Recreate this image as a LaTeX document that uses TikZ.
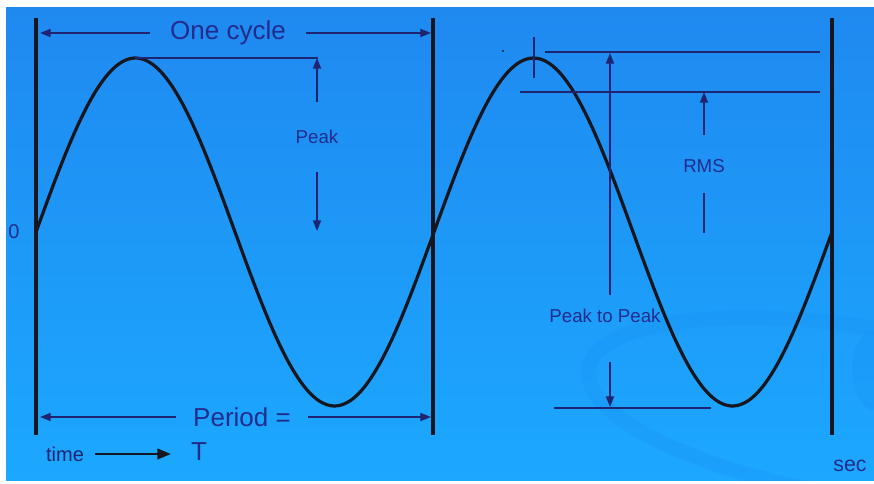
\documentclass[tikz,border=0pt]{standalone}
\usepackage{fontspec}
\setmainfont{Liberation Sans}
\usetikzlibrary{arrows.meta}

\definecolor{navy}{RGB}{34,44,140}
\definecolor{dimline}{RGB}{30,36,112}
\definecolor{ink}{RGB}{22,22,30}
\definecolor{bgtop}{RGB}{31,137,240}
\definecolor{bgbottom}{RGB}{28,168,255}
\definecolor{swirl}{RGB}{24,146,246}

\begin{document}
\begin{tikzpicture}[
    x=0.75pt, y=-0.75pt,
    every node/.style={font=\fontsize{14}{16}\selectfont, text=navy, inner sep=1pt},
    big/.style={font=\fontsize{19.5}{22}\selectfont},
    dim/.style={draw=dimline, line width=1.3pt},
    bar/.style={draw=ink, line width=2.4pt},
    wave/.style={draw=ink, line width=2.4pt, line join=round},
    >={Triangle[length=8pt, width=6pt]},
]
% Page and background
\useasboundingbox (0,0) rectangle (874,483);
\fill[white] (0,0) rectangle (874,483);
\shade[top color=bgtop, bottom color=bgbottom] (6,7) rectangle (874,480);
\begin{scope}
  \clip (6,7) rectangle (874,480);
  \draw[swirl, line width=11pt, opacity=0.3] (860,412) ellipse [x radius=275, y radius=85, rotate=-9];
  \fill[swirl, opacity=0.3] (874,370) ellipse [x radius=22, y radius=40];
\end{scope}

% Cycle boundaries
\coordinate (startTop) at (36,18);
\coordinate (startBot) at (36,435);
\coordinate (midTop) at (433,18);
\coordinate (midBot) at (433,435);
\coordinate (endTop) at (832,18);
\coordinate (endBot) at (832,435);
\draw[bar] (startTop) -- (startBot);
\draw[bar] (midTop) -- (midBot);
\draw[bar] (endTop) -- (endBot);

% Sine wave, two cycles
\draw[wave] plot[domain=36:832, samples=220, smooth] (\x, {232-174*sin(0.904523*(\x-36))});

% Labels
\node[font=\fontsize{15}{17}\selectfont] (zero) at (14,232) {0};
\node[big] (cycle) at (228,33) {One cycle};
\node[big] (period) at (242,417) {Period =};
\node[big] (tee) at (199,452) {T};
\node[font=\fontsize{15}{17}\selectfont, text=dimline] (time) at (65,454) {time};
\node[font=\fontsize{16}{18}\selectfont] (sec) at (850,466) {sec};
\node (peak) at (317,137) {Peak};
\node (rms) at (704,166) {RMS};
\node (ptop) at (605,316) {Peak to Peak};

% One cycle and period spans
\coordinate (cycL) at (40,33);
\coordinate (cycR) at (431,33);
\draw[dim, ->] ([xshift=-14pt]cycle.west) -- (cycle.west -| cycL);
\draw[dim, ->] ([xshift=14pt]cycle.east) -- (cycle.east -| cycR);
\coordinate (perL) at (40,417);
\coordinate (perR) at (431,417);
\draw[dim, ->] ([xshift=-12pt]period.west) -- (period.west -| perL);
\draw[dim, ->] ([xshift=12pt]period.east) -- (period.east -| perR);
\draw[draw=ink, line width=1.4pt, -{Triangle[length=10pt, width=8pt]}] ([xshift=7pt]time.east) -- ([xshift=-14pt]time.east -| tee.west);

% Peak
\coordinate (crest) at (135,58);
\coordinate (peakTop) at (318,58);
\coordinate (peakBot) at (315,231);
\draw[dim] (crest) -- (peakTop);
\draw[dim, ->] ([yshift=20pt]peak.north) -- (peakTop -| peak);
\draw[dim, ->] ([yshift=-20pt]peak.south) -- (peakBot -| peak);

% Peak to peak and RMS
\coordinate (tick) at (534,37);
\coordinate (tickBot) at (534,78);
\draw[dimline, line width=1.2pt] (tick) -- (tickBot);
\fill[ink] (503,51) circle (1.2);
\coordinate (topL) at (545,52);
\coordinate (topR) at (820,52);
\coordinate (rmsL) at (520,92);
\coordinate (rmsR) at (820,92);
\coordinate (lowL) at (554,408);
\coordinate (lowR) at (711,408);
\coordinate (ptopUp) at (610,295);
\coordinate (ptopTip) at (610,53);
\coordinate (ptopDown) at (610,362);
\coordinate (ptopEnd) at (610,407);
\coordinate (rmsEnd) at (704,233);
\draw[dim] (topL) -- (topR);
\draw[dim] (rmsL) -- (rmsR);
\draw[dim] (lowL) -- (lowR);
\draw[dim, ->] (ptopUp) -- (ptopTip);
\draw[dim, ->] (ptopDown) -- (ptopEnd);
\draw[dim, ->] ([yshift=17pt]rms.north) -- (rmsR -| rms);
\draw[dim] ([yshift=-14pt]rms.south) -- (rmsEnd);

\end{tikzpicture}
\end{document}
